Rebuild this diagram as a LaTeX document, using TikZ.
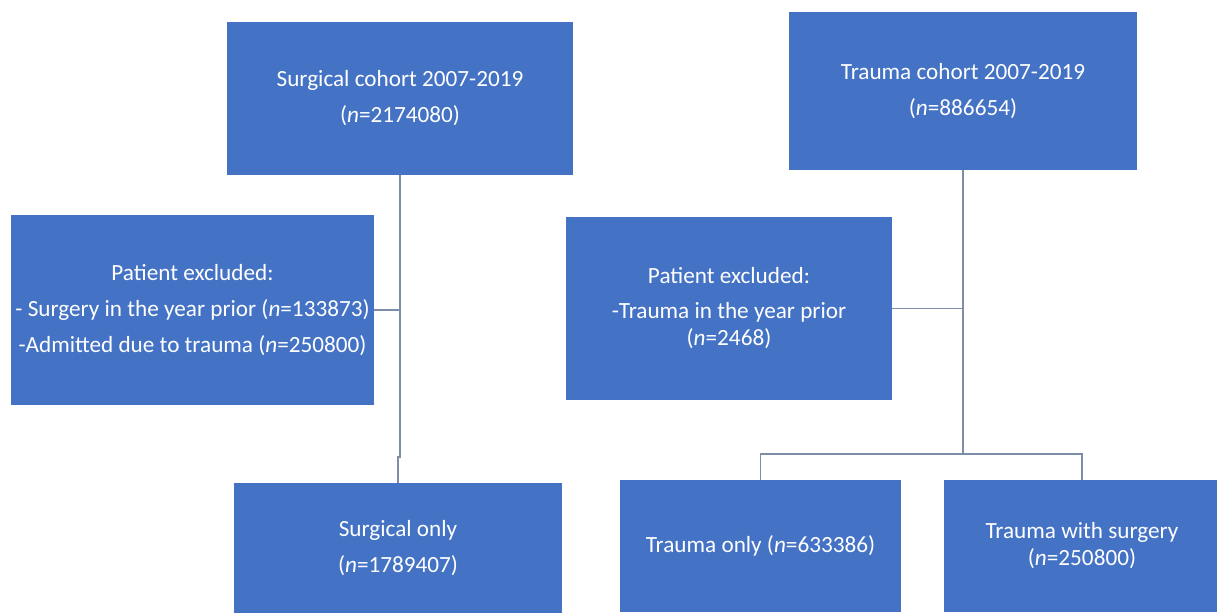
\documentclass[tikz,border=0pt]{standalone}
\usepackage{fontspec}
\setmainfont{Carlito}
\usepackage{xcolor}
\usetikzlibrary{positioning}
\definecolor{boxblue}{HTML}{4472C4}
\definecolor{linkgray}{HTML}{7E8DA8}

\begin{document}
\begin{tikzpicture}[x=0.5pt, y=-0.5pt,
    box/.style={fill=boxblue, text=white, align=center, inner sep=0pt,
      font=\fontsize{11.6}{13.5}\selectfont},
    link/.style={draw=linkgray, line width=0.9pt}]
      \useasboundingbox (0,0) rectangle (1217,612);
      \clip (0,0) rectangle (1217,612);

      % Cohort boxes at top
      \node[box, minimum width=173pt, minimum height=76.5pt] (surg) at (400,98.5)
        {Surgical cohort 2007-2019\\[4.5pt](\textit{n}=2174080)};
      \node[box, minimum width=174pt, minimum height=79pt] (trau) at (963,91)
        {Trauma cohort 2007-2019\\[4.5pt](\textit{n}=886654)};

      % Exclusion boxes
      \node[box, minimum width=181.5pt, minimum height=95pt] (exsurg) at (192.5,310)
        {Patient excluded:\\[4.5pt]- Surgery in the year prior (\textit{n}=133873)\\[4.5pt]-Admitted due to trauma (\textit{n}=250800)};
      \node[box, minimum width=163pt, minimum height=91.5pt] (extrau) at (729,308.5)
        {Patient excluded:\\[4pt]-Trauma in the year prior\\(\textit{n}=2468)};

      % Final groups at bottom
      \node[box, minimum width=164pt, minimum height=65pt] (sonly) at (398,548)
        {Surgical only\\[4.5pt](\textit{n}=1789407)};
      \node[box, minimum width=140.5pt, minimum height=66pt] (tonly) at (760.5,546)
        {Trauma only (\textit{n}=633386)};
      \node[box, minimum width=138pt, minimum height=66pt] (tsurg) at (1082,546)
        {Trauma with surgery\\(\textit{n}=250800)};

      % Surgical branch
      \coordinate (sjog) at (400,457);
      \draw[link] (surg.south) -- (sjog) -- (sonly.north |- sjog) -- (sonly.north);
      \draw[link] (exsurg.east) -- (exsurg.east -| surg.south);

      % Trauma branch
      \coordinate (tsplit) at (963,454);
      \draw[link] (trau.south) -- (tsplit);
      \draw[link] (extrau.east) -- (extrau.east -| trau.south);
      \draw[link] (tonly.north) |- (tsplit) -| (tsurg.north);

\end{tikzpicture}
\end{document}
